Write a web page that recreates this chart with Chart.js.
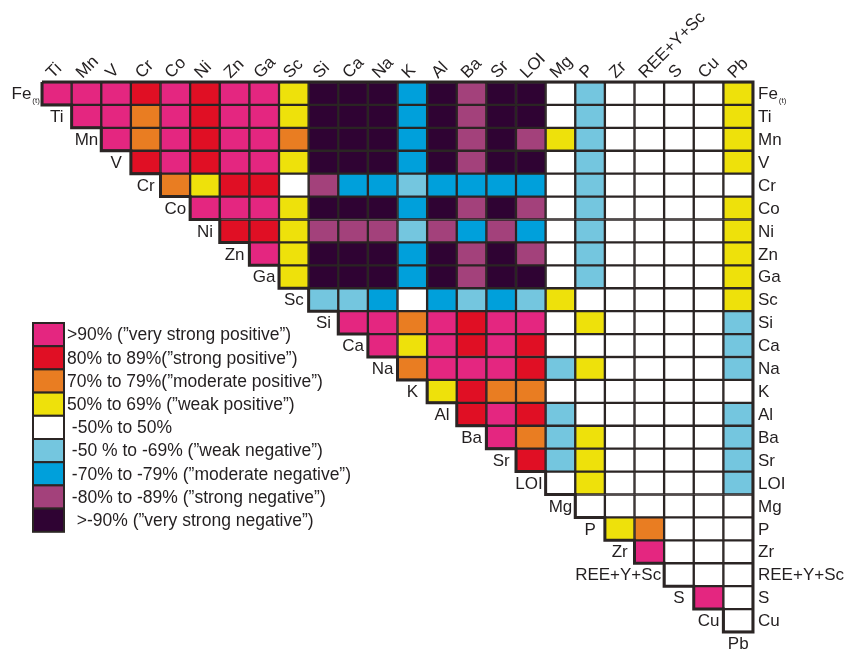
<!DOCTYPE html>
<html>
<head>
<meta charset="utf-8">
<script src="https://cdn.jsdelivr.net/npm/chart.js@4"></script>
<style>
  html, body { margin: 0; padding: 0; background: #fff; }
  #wrap { width: 858px; height: 651px; position: relative; }
</style>
</head>
<body>
<div id="wrap"><canvas id="chart" width="858" height="651"></canvas></div>
<script>
// element names, rows top to bottom (Pb only appears as a closing label)
const rowNames = ["Fe", "Ti", "Mn", "V", "Cr", "Co", "Ni", "Zn", "Ga", "Sc", "Si", "Ca", "Na",
                  "K", "Al", "Ba", "Sr", "LOI", "Mg", "P", "Zr", "REE+Y+Sc", "S", "Cu", "Pb"];
const colNames = rowNames.slice(1);

// correlation class of each cell, row r starts at column r
// 9 >90%, 8 80-89%, 7 70-79%, 5 50-69%, 0 -50..50%, -5 -50..-69%, -7 -70..-79%, -8 -80..-89%, -9 >-90%
const fe  = [9, 9, 9, 8, 9, 8, 9, 9, 5, -9, -9, -9, -7, -9, -8, -9, -9, 0, -5, 0, 0, 0, 0, 5];
const ti  = [9, 9, 7, 9, 8, 9, 9, 5, -9, -9, -9, -7, -9, -8, -9, -9, 0, -5, 0, 0, 0, 0, 5];
const mn  = [9, 7, 9, 8, 9, 9, 7, -9, -9, -9, -7, -9, -8, -9, -8, 5, -5, 0, 0, 0, 0, 5];
const v   = [8, 9, 8, 9, 9, 5, -9, -9, -9, -7, -9, -8, -9, -9, 0, -5, 0, 0, 0, 0, 5];
const cr  = [7, 5, 8, 8, 0, -8, -7, -7, -5, -7, -7, -7, -7, 0, -5, 0, 0, 0, 0, 0];
const co  = [9, 9, 9, 5, -9, -9, -9, -7, -9, -8, -9, -8, 0, -5, 0, 0, 0, 0, 5];
const ni  = [8, 8, 5, -8, -8, -8, -5, -8, -7, -8, -7, 0, -5, 0, 0, 0, 0, 5];
const zn  = [9, 5, -9, -9, -9, -7, -9, -8, -9, -8, 0, -5, 0, 0, 0, 0, 5];
const ga  = [5, -9, -9, -9, -7, -9, -8, -9, -9, 0, -5, 0, 0, 0, 0, 5];
const sc  = [-5, -5, -7, 0, -7, -5, -7, -5, 5, 0, 0, 0, 0, 0, 5];
const si  = [9, 9, 7, 9, 8, 9, 9, 0, 5, 0, 0, 0, 0, -5];
const ca  = [9, 5, 9, 8, 9, 8, 0, 0, 0, 0, 0, 0, -5];
const na  = [7, 9, 9, 9, 8, -5, 5, 0, 0, 0, 0, -5];
const k   = [5, 8, 7, 7, 0, 0, 0, 0, 0, 0, 0];
const al  = [8, 9, 8, -5, 0, 0, 0, 0, 0, -5];
const ba  = [9, 7, -5, 5, 0, 0, 0, 0, -5];
const sr  = [8, -5, 5, 0, 0, 0, 0, -5];
const loi = [0, 5, 0, 0, 0, 0, -5];
const mg  = [0, 0, 0, 0, 0, 0];
const p   = [5, 7, 0, 0, 0];
const zr  = [9, 0, 0, 0];
const ree = [0, 0, 0];
const s   = [9, 0];
const cu  = [0];
const matrix = [fe, ti, mn, v, cr, co, ni, zn, ga, sc, si, ca, na, k, al, ba, sr, loi, mg, p, zr, ree, s, cu];

const classCodes = [9, 8, 7, 5, 0, -5, -7, -8, -9];
const classColors = ["#E42680", "#E00F24", "#E97D22", "#EEE10B", "#FFFFFF", "#74C6DF", "#00A0DB", "#A3417B", "#2F0333"];
const classLabels = [
  ">90% (\u201dvery strong positive\u201d)",
  "80% to 89%(\u201dstrong positive\u201d)",
  "70% to 79%(\u201dmoderate positive\u201d)",
  "50% to 69% (\u201dweak positive\u201d)",
  " -50% to 50%",
  " -50 % to -69% (\u201dweak negative\u201d)",
  " -70% to -79% (\u201dmoderate negative\u201d)",
  " -80% to -89% (\u201dstrong negative\u201d)",
  "  >-90% (\u201dvery strong negative\u201d)"
];

const edge = "#2B2524";
const font = "'Liberation Sans', Arial, sans-serif";

function colorOf(code) {
  return classColors[classCodes.indexOf(code)];
}

let datasets = matrix.map((row, r) => ({
  label: rowNames[r],
  data: colNames.map((c, j) => j >= r ? [r, r + 1] : null),
  backgroundColor: colNames.map((c, j) => j >= r ? colorOf(row[j - r]) : "transparent"),
  borderColor: edge,
  borderWidth: 1.5,
  borderSkipped: false,
  grouped: false,
  barPercentage: 1,
  categoryPercentage: 1
}));

function drawFe(ctx, x, y, align) {
  ctx.font = "17px " + font;
  let w = ctx.measureText("Fe").width;
  ctx.font = "8px " + font;
  let ws = ctx.measureText("(t)").width;
  let x0 = align === "center" ? x - (w + ws) / 2 - 2 : x;
  ctx.textAlign = "left";
  ctx.font = "17px " + font;
  ctx.fillText("Fe", x0, y);
  ctx.font = "8px " + font;
  ctx.fillText("(t)", x0 + w + 1, y + 6);
}

const labelsPlugin = {
  id: "labels",
  afterDatasetsDraw(chart) {
    const ctx = chart.ctx;
    const xs = chart.scales.x, ys = chart.scales.y;
    const cw = xs.getPixelForValue(1) - xs.getPixelForValue(0);
    const left = j => xs.getPixelForValue(j) - cw / 2;
    const n = colNames.length;

    // outer staircase outline
    ctx.save();
    ctx.strokeStyle = edge;
    ctx.lineWidth = 3;
    ctx.beginPath();
    ctx.moveTo(left(0), ys.getPixelForValue(0));
    ctx.lineTo(left(n), ys.getPixelForValue(0));
    ctx.lineTo(left(n), ys.getPixelForValue(n));
    for (let r = n - 1; r >= 0; r--) {
      ctx.lineTo(left(r), ys.getPixelForValue(r + 1));
      ctx.lineTo(left(r), ys.getPixelForValue(r));
    }
    ctx.stroke();

    ctx.fillStyle = "#231F20";
    ctx.textBaseline = "middle";

    // labels along the diagonal and down the right side
    rowNames.forEach((name, r) => {
      const y = ys.getPixelForValue(r + 0.5) + 1;
      const cx = xs.getPixelForValue(r - 1);
      if (name === "Fe") {
        drawFe(ctx, cx, y, "center");
      } else {
        ctx.font = "17px " + font;
        ctx.textAlign = "center";
        const tw = ctx.measureText(name).width;
        ctx.fillText(name, Math.min(cx, left(r) - 3 - tw / 2), y);
      }
      if (r < n) {
        if (name === "Fe") {
          drawFe(ctx, left(n) + 5, y, "left");
        } else {
          ctx.font = "17px " + font;
          ctx.textAlign = "left";
          ctx.fillText(name, left(n) + 5, y);
        }
      }
    });

    // rotated column labels on top
    ctx.font = "17px " + font;
    ctx.textAlign = "left";
    ctx.textBaseline = "alphabetic";
    colNames.forEach((name, j) => {
      ctx.save();
      ctx.translate(xs.getPixelForValue(j) - 4, ys.getPixelForValue(0) - 3);
      ctx.rotate(-Math.PI / 4);
      ctx.fillText(name, 0, 0);
      ctx.restore();
    });

    // legend
    const lx = 33, ly = 323, lw = 31, lh = 23.2;
    classColors.forEach((c, i) => {
      ctx.fillStyle = c;
      ctx.fillRect(lx, ly + i * lh, lw, lh);
      ctx.strokeStyle = edge;
      ctx.lineWidth = 2;
      ctx.strokeRect(lx, ly + i * lh, lw, lh);
      ctx.fillStyle = "#231F20";
      ctx.font = "17.5px " + font;
      ctx.textBaseline = "middle";
      ctx.fillText(classLabels[i], lx + lw + 3, ly + i * lh + lh / 2 + 1);
    });
    ctx.restore();
  }
};

new Chart(document.getElementById("chart"), {
  type: "bar",
  data: { labels: colNames, datasets: datasets },
  options: {
    responsive: false,
    animation: false,
    layout: { padding: { left: 42, right: 105, top: 82, bottom: 19 } },
    plugins: { legend: { display: false }, tooltip: { enabled: false } },
    scales: {
      x: { type: "category", display: false, offset: true, grid: { display: false } },
      y: { type: "linear", display: false, min: 0, max: 24, reverse: true }
    }
  },
  plugins: [labelsPlugin]
});
</script>
</body>
</html>
